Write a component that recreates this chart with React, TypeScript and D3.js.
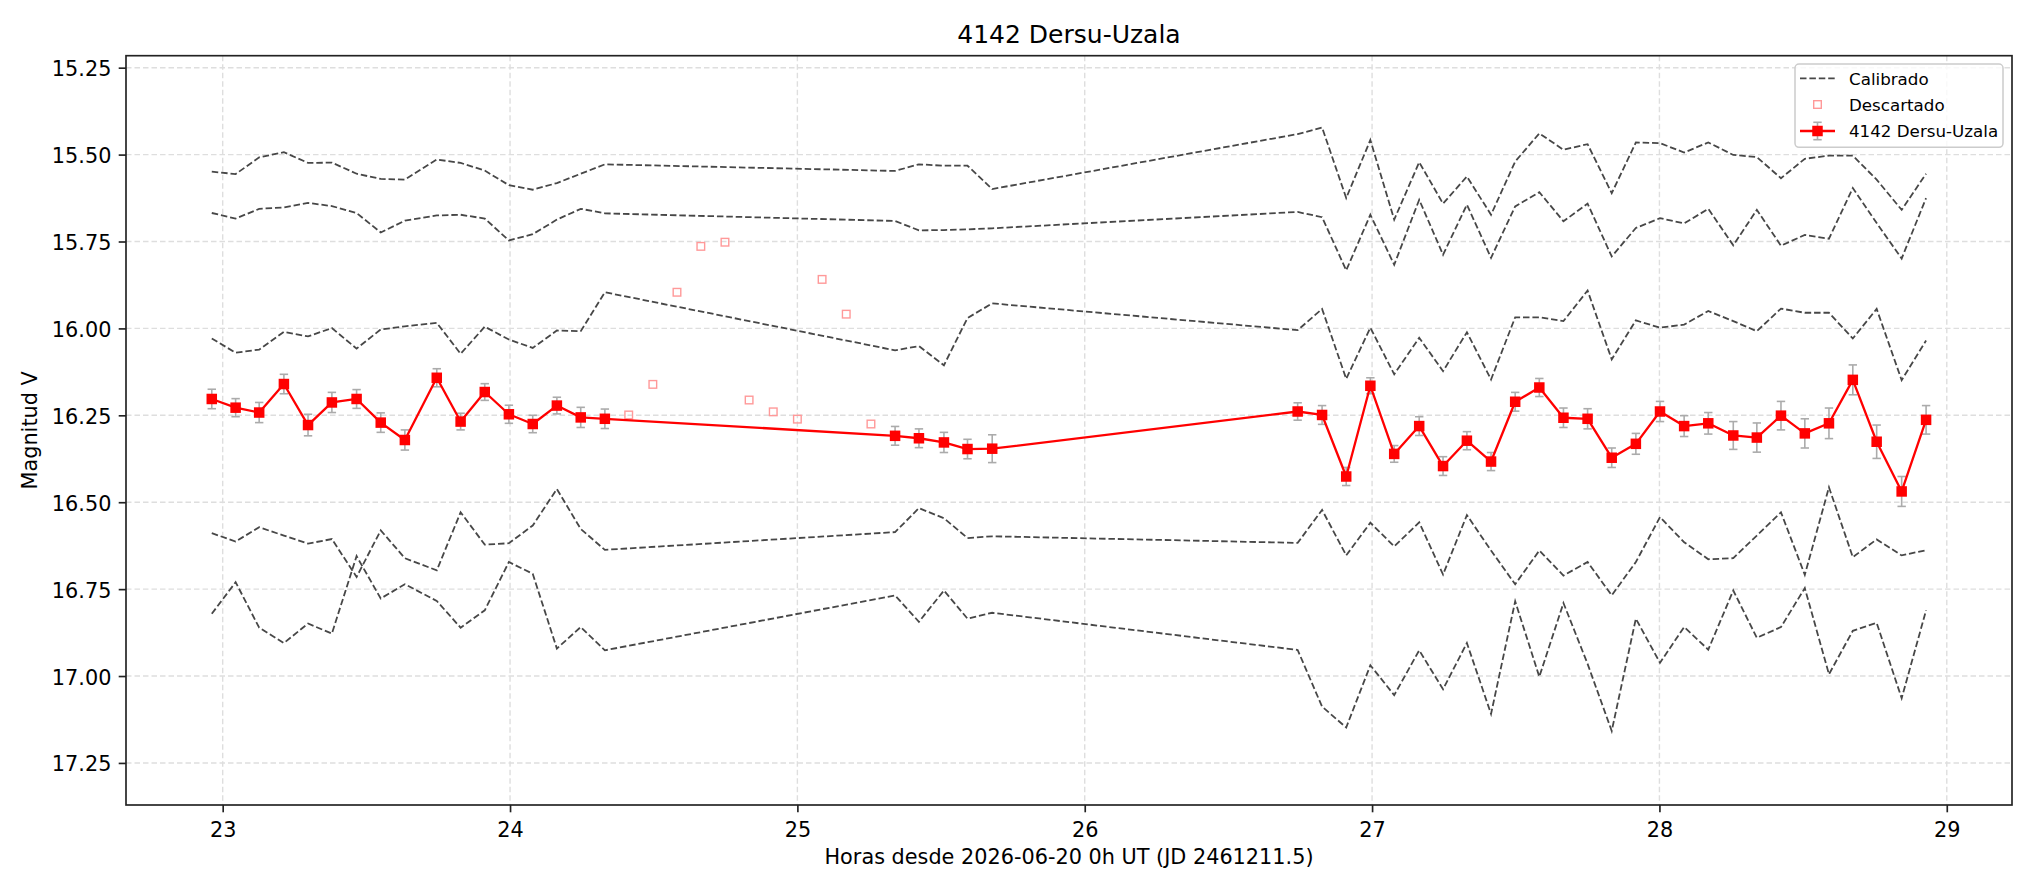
import React, { useRef, useEffect } from 'react';
import * as d3 from 'd3';

// Horas de las observaciones válidas
const horas = [
    22.962, 23.045, 23.127, 23.213, 23.297, 23.380, 23.466, 23.550, 23.634, 23.745,
    23.828, 23.912, 23.996, 24.079, 24.163, 24.246, 24.330,
    25.340, 25.423, 25.510, 25.592, 25.678,
    26.741, 26.826, 26.910, 26.994, 27.077, 27.164, 27.247, 27.330, 27.414, 27.498,
    27.582, 27.666, 27.750, 27.834, 27.918, 28.002, 28.086, 28.170, 28.257, 28.339,
    28.423, 28.506, 28.590, 28.673, 28.756, 28.843, 28.928
];

// Magnitud del asteroide y su error
const magnitud = [
    16.203, 16.228, 16.242, 16.160, 16.278, 16.213, 16.203, 16.271, 16.321, 16.142,
    16.268, 16.183, 16.247, 16.275, 16.222, 16.256, 16.260,
    16.309, 16.316, 16.328, 16.347, 16.346,
    16.239, 16.249, 16.426, 16.165, 16.361, 16.281, 16.396, 16.323, 16.383, 16.211,
    16.170, 16.257, 16.260, 16.372, 16.332, 16.239, 16.281, 16.273, 16.308, 16.314,
    16.251, 16.302, 16.273, 16.148, 16.326, 16.469, 16.263
];

const errores = [
    0.028, 0.026, 0.029, 0.028, 0.031, 0.029, 0.027, 0.028, 0.029, 0.026,
    0.024, 0.024, 0.026, 0.025, 0.024, 0.029, 0.028,
    0.027, 0.027, 0.029, 0.028, 0.040,
    0.025, 0.027, 0.026, 0.023, 0.024, 0.027, 0.027, 0.026, 0.026, 0.027,
    0.026, 0.028, 0.029, 0.028, 0.030, 0.029, 0.030, 0.031, 0.040, 0.042,
    0.041, 0.042, 0.044, 0.043, 0.048, 0.043, 0.041
];

// Estrellas de comparación calibradas
const cal1 = [
    15.549, 15.556, 15.508, 15.493, 15.524, 15.523, 15.555, 15.570, 15.572, 15.514,
    15.524, 15.546, 15.588, 15.601, 15.582, 15.555, 15.528,
    15.547, 15.528, 15.532, 15.532, 15.599,
    15.441, 15.422, 15.625, 15.458, 15.687, 15.522, 15.641, 15.563, 15.673, 15.520,
    15.439, 15.486, 15.470, 15.611, 15.465, 15.467, 15.494, 15.465, 15.501, 15.507,
    15.568, 15.512, 15.503, 15.503, 15.572, 15.659, 15.555
];

const cal2 = [
    15.668, 15.684, 15.656, 15.652, 15.639, 15.648, 15.668, 15.724, 15.690, 15.675,
    15.673, 15.684, 15.747, 15.729, 15.687, 15.656, 15.669,
    15.691, 15.718, 15.717, 15.715, 15.712,
    15.665, 15.680, 15.833, 15.673, 15.817, 15.630, 15.788, 15.644, 15.797, 15.649,
    15.608, 15.692, 15.641, 15.793, 15.711, 15.683, 15.698, 15.656, 15.761, 15.659,
    15.762, 15.731, 15.742, 15.596, 15.697, 15.799, 15.625
];

const cal3 = [
    16.029, 16.070, 16.061, 16.010, 16.023, 15.999, 16.058, 16.003, 15.994, 15.984,
    16.073, 15.995, 16.032, 16.056, 16.006, 16.008, 15.896,
    16.063, 16.051, 16.106, 15.970, 15.928,
    16.005, 15.944, 16.145, 15.998, 16.132, 16.027, 16.123, 16.011, 16.147, 15.968,
    15.968, 15.979, 15.891, 16.089, 15.977, 15.998, 15.989, 15.950, 15.979, 16.008,
    15.943, 15.955, 15.955, 16.029, 15.944, 16.149, 16.035
];

const cal4 = [
    16.589, 16.613, 16.572, 16.596, 16.619, 16.606, 16.715, 16.581, 16.661, 16.696,
    16.529, 16.622, 16.618, 16.567, 16.462, 16.577, 16.637,
    16.586, 16.517, 16.546, 16.603, 16.598,
    16.617, 16.522, 16.653, 16.559, 16.627, 16.558, 16.708, 16.537, 16.639, 16.736,
    16.639, 16.711, 16.672, 16.768, 16.672, 16.543, 16.615, 16.664, 16.661, 16.596,
    16.529, 16.709, 16.457, 16.658, 16.607, 16.653, 16.638
];

const cal5 = [
    16.821, 16.730, 16.861, 16.905, 16.849, 16.878, 16.655, 16.777, 16.736, 16.784,
    16.861, 16.811, 16.672, 16.706, 16.921, 16.859, 16.926,
    16.768, 16.844, 16.754, 16.835, 16.818,
    16.925, 17.088, 17.148, 16.969, 17.055, 16.926, 17.038, 16.905, 17.109, 16.785,
    17.002, 16.790, 16.965, 17.158, 16.835, 16.962, 16.859, 16.924, 16.754, 16.890,
    16.859, 16.747, 16.995, 16.870, 16.847, 17.064, 16.811
];

// Puntos descartados
const horasDescartadas = [24.413, 24.497, 24.581, 24.664, 24.748, 24.832, 24.916, 25.000, 25.086, 25.170, 25.256];
const magDescartadas = [16.249, 16.161, 15.896, 15.764, 15.752, 16.206, 16.240, 16.261, 15.859, 15.959, 16.275];

const ticksX = [23, 24, 25, 26, 27, 28, 29];
const ticksY = [15.25, 15.5, 15.75, 16.0, 16.25, 16.5, 16.75, 17.0, 17.25];

const titulo = '4142 Dersu-Uzala';
const etiquetaX = 'Horas desde 2026-06-20 0h UT (JD 2461211.5)';
const etiquetaY = 'Magnitud V';
const leyenda = ['Calibrado', 'Descartado', '4142 Dersu-Uzala'];

const App = () => {
    const svgRef = useRef<SVGSVGElement>(null);

    useEffect(() => {
        const width = 2034;
        const height = 892;
        const marginTop = 55.7;
        const marginRight = 22;
        const marginBottom = 87;
        const marginLeft = 126;
        const font = '"DejaVu Sans", sans-serif';

        const svg = d3.select(svgRef.current)
            .attr('width', width)
            .attr('height', height)
            .attr('viewBox', `0 0 ${width} ${height}`)
            .style('background', '#fff');

        svg.selectAll('*').remove();

        const x = d3.scaleLinear()
            .domain([22.6635, 29.227])
            .range([marginLeft, width - marginRight]);

        // magnitudes: eje invertido (más brillante arriba)
        const y = d3.scaleLinear()
            .domain([15.2155, 17.371])
            .range([marginTop, height - marginBottom]);

        const x0 = marginLeft, x1 = width - marginRight;
        const y0 = marginTop, y1 = height - marginBottom;

        svg.append('defs').append('clipPath').attr('id', 'area')
            .append('rect')
            .attr('x', x0).attr('y', y0)
            .attr('width', x1 - x0).attr('height', y1 - y0);

        // Rejilla
        const grid = svg.append('g')
            .attr('stroke', '#dedede')
            .attr('stroke-width', 1.4)
            .attr('stroke-dasharray', '5.5,3');
        grid.selectAll('.gx').data(ticksX).join('line')
            .attr('x1', d => x(d)).attr('x2', d => x(d))
            .attr('y1', y0).attr('y2', y1);
        grid.selectAll('.gy').data(ticksY).join('line')
            .attr('x1', x0).attr('x2', x1)
            .attr('y1', d => y(d)).attr('y2', d => y(d));

        const plot = svg.append('g').attr('clip-path', 'url(#area)');

        // Curvas calibradas
        const line = d3.line<number>()
            .x((_, i) => x(horas[i]))
            .y(d => y(d));

        [cal1, cal2, cal3, cal4, cal5].forEach(serie => {
            plot.append('path')
                .datum(serie)
                .attr('fill', 'none')
                .attr('stroke', '#474747')
                .attr('stroke-width', 1.8)
                .attr('stroke-dasharray', '6.5,2.9')
                .attr('d', line);
        });

        // Descartados
        const sd = 7.6;
        plot.selectAll('.desc').data(horasDescartadas).join('rect')
            .attr('x', d => x(d) - sd / 2)
            .attr('y', (_, i) => y(magDescartadas[i]) - sd / 2)
            .attr('width', sd).attr('height', sd)
            .attr('fill', 'none')
            .attr('stroke', '#ff9999')
            .attr('stroke-width', 1.4);

        // Barras de error
        const cap = 4.2;
        const eb = plot.append('g').attr('stroke', '#ababab').attr('stroke-width', 1.6);
        horas.forEach((h, i) => {
            const cx = x(h);
            const ya = y(magnitud[i] - errores[i]);
            const yb = y(magnitud[i] + errores[i]);
            eb.append('line').attr('x1', cx).attr('x2', cx).attr('y1', ya).attr('y2', yb);
            eb.append('line').attr('x1', cx - cap).attr('x2', cx + cap).attr('y1', ya).attr('y2', ya);
            eb.append('line').attr('x1', cx - cap).attr('x2', cx + cap).attr('y1', yb).attr('y2', yb);
        });

        // Serie del asteroide
        plot.append('path')
            .datum(magnitud)
            .attr('fill', 'none')
            .attr('stroke', '#ff0000')
            .attr('stroke-width', 2.3)
            .attr('stroke-linejoin', 'round')
            .attr('d', line);

        const sm = 10.5;
        plot.selectAll('.obj').data(magnitud).join('rect')
            .attr('x', (_, i) => x(horas[i]) - sm / 2)
            .attr('y', d => y(d) - sm / 2)
            .attr('width', sm).attr('height', sm)
            .attr('fill', '#ff0000');

        // Ejes
        svg.append('g')
            .attr('transform', `translate(0,${y1})`)
            .call(d3.axisBottom(x).tickValues(ticksX).tickFormat(d3.format('d')).tickSize(7.3).tickPadding(7.3))
            .call(g => g.select('.domain').remove())
            .call(g => g.selectAll('.tick line').attr('stroke', '#222').attr('stroke-width', 1.67))
            .call(g => g.selectAll('.tick text')
                .attr('y', 32).attr('dy', null)
                .attr('fill', '#000')
                .style('font-family', font).style('font-size', '20.8px'));

        svg.append('g')
            .attr('transform', `translate(${x0},0)`)
            .call(d3.axisLeft(y).tickValues(ticksY).tickFormat(d3.format('.2f')).tickSize(7.3).tickPadding(7.3))
            .call(g => g.select('.domain').remove())
            .call(g => g.selectAll('.tick line').attr('stroke', '#222').attr('stroke-width', 1.67))
            .call(g => g.selectAll('.tick text')
                .attr('dy', '0.385em')
                .attr('fill', '#000')
                .style('font-family', font).style('font-size', '20.8px'));

        // Marco
        svg.append('rect')
            .attr('x', x0).attr('y', y0)
            .attr('width', x1 - x0).attr('height', y1 - y0)
            .attr('fill', 'none')
            .attr('stroke', '#222')
            .attr('stroke-width', 1.67);

        // Textos
        svg.append('text')
            .attr('x', (x0 + x1) / 2).attr('y', 43.2)
            .attr('text-anchor', 'middle')
            .style('font-family', font).style('font-size', '25px')
            .text(titulo);

        svg.append('text')
            .attr('x', (x0 + x1) / 2).attr('y', 864)
            .attr('text-anchor', 'middle')
            .style('font-family', font).style('font-size', '20.8px')
            .text(etiquetaX);

        svg.append('text')
            .attr('transform', `translate(37,${(y0 + y1) / 2}) rotate(-90)`)
            .attr('text-anchor', 'middle')
            .style('font-family', font).style('font-size', '20.8px')
            .text(etiquetaY);

        // Leyenda
        const lg = svg.append('g');
        lg.append('rect')
            .attr('x', 1795).attr('y', 64)
            .attr('width', 208).attr('height', 83.3)
            .attr('rx', 4)
            .attr('fill', '#fff').attr('fill-opacity', 0.8)
            .attr('stroke', '#cccccc').attr('stroke-width', 1.5);

        const hx0 = 1800, hx1 = 1835, hxm = (hx0 + hx1) / 2;
        const filas = [78.3, 104.5, 131];

        lg.append('line')
            .attr('x1', hx0).attr('x2', hx1)
            .attr('y1', filas[0]).attr('y2', filas[0])
            .attr('stroke', '#474747').attr('stroke-width', 1.8)
            .attr('stroke-dasharray', '6.5,2.9');

        lg.append('rect')
            .attr('x', hxm - sd / 2).attr('y', filas[1] - sd / 2)
            .attr('width', sd).attr('height', sd)
            .attr('fill', 'none').attr('stroke', '#ff9999').attr('stroke-width', 1.4);

        lg.append('line')
            .attr('x1', hxm).attr('x2', hxm)
            .attr('y1', filas[2] - 8.7).attr('y2', filas[2] + 8.7)
            .attr('stroke', '#ababab').attr('stroke-width', 1.6);
        [filas[2] - 8.7, filas[2] + 8.7].forEach(v => {
            lg.append('line')
                .attr('x1', hxm - cap).attr('x2', hxm + cap)
                .attr('y1', v).attr('y2', v)
                .attr('stroke', '#ababab').attr('stroke-width', 1.6);
        });
        lg.append('line')
            .attr('x1', hx0).attr('x2', hx1)
            .attr('y1', filas[2]).attr('y2', filas[2])
            .attr('stroke', '#ff0000').attr('stroke-width', 2.3);
        lg.append('rect')
            .attr('x', hxm - sm / 2).attr('y', filas[2] - sm / 2)
            .attr('width', sm).attr('height', sm)
            .attr('fill', '#ff0000');

        leyenda.forEach((t, i) => {
            lg.append('text')
                .attr('x', 1849).attr('y', filas[i] + 6.2)
                .style('font-family', font).style('font-size', '16.7px')
                .text(t);
        });
    }, []);

    return (
        <svg ref={svgRef} style={{ position: 'absolute', left: 0, top: 0, display: 'block' }}></svg>
    );
};

export default App;
